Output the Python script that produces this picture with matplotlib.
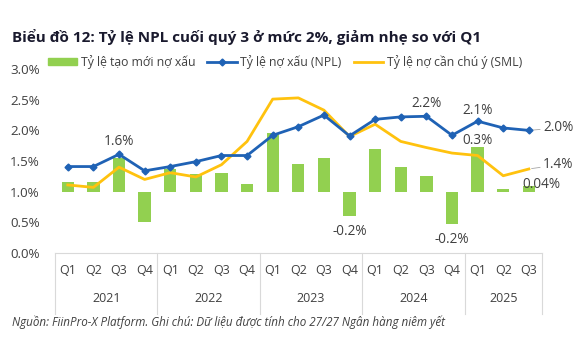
import matplotlib
matplotlib.use("Agg")
import matplotlib.pyplot as plt
import matplotlib.transforms as mtransforms
from matplotlib.lines import Line2D
from matplotlib.patches import Patch

quarters = ["Q1", "Q2", "Q3", "Q4"] * 4 + ["Q1", "Q2", "Q3"]
years = ["2021", "2022", "2023", "2024", "2025"]
year_sizes = [4, 4, 4, 4, 3]

# % values
npl = [1.41, 1.41, 1.61, 1.34, 1.41, 1.49, 1.59, 1.59, 1.92, 2.06, 2.25, 1.91,
       2.18, 2.22, 2.23, 1.92, 2.15, 2.04, 2.00]
sml = [1.11, 1.07, 1.40, 1.20, 1.31, 1.24, 1.44, 1.82, 2.51, 2.53, 2.33, 1.90,
       2.10, 1.82, 1.72, 1.63, 1.59, 1.26, 1.37]
new_npl = [0.06, 0.065, 0.22, -0.195, 0.15, 0.115, 0.125, 0.05, 0.38, 0.18, 0.22, -0.16,
           0.28, 0.16, 0.10, -0.21, 0.29, 0.02, 0.04]

GREEN = "#92D050"
BLUE = "#1F62B5"
YELLOW = "#FFC20E"
TXT = "#404040"
GRID = "#D9D9D9"

plt.rcParams["font.family"] = ["Open Sans", "DejaVu Sans"]

fig = plt.figure(figsize=(5.77, 3.37), dpi=100)
ax = fig.add_axes([0.0953, 0.2493, 0.8434, 0.5457])
ax2 = ax.twinx()
ax.set_zorder(ax2.get_zorder() + 1)
ax.patch.set_visible(False)

x = list(range(len(quarters)))

# bars on hidden secondary scale, zero level aligned with 1.0% on the main scale
ax2.bar(x, new_npl, width=0.48, color=GREEN, zorder=1)
ax2.set_ylim(-0.4, 0.8)
ax2.axis("off")

ax.plot(x, sml, color=YELLOW, lw=2.0, zorder=3)
ax.plot(x, npl, color=BLUE, lw=2.0, marker="D", markersize=3.5, zorder=4)

ax.set_xlim(-0.5, len(x) - 0.5)
ax.set_ylim(0, 3.0)
ax.set_yticks([0, 0.5, 1.0, 1.5, 2.0, 2.5, 3.0])
ax.set_yticklabels([f"{v:.1f}%" for v in [0, 0.5, 1.0, 1.5, 2.0, 2.5, 3.0]])
ax.tick_params(axis="y", length=0, labelsize=9.6, labelcolor=TXT, pad=11)
ax.set_xticks(x)
ax.set_xticklabels(quarters)
ax.tick_params(axis="x", length=0, labelsize=9, labelcolor=TXT, pad=8)
for s in ["top", "right", "left"]:
    ax.spines[s].set_visible(False)
ax.spines["bottom"].set_color(GRID)
ax.spines["bottom"].set_linewidth(0.8)

# year row and group separators below the axis
trans = mtransforms.blended_transform_factory(ax.transData, ax.transAxes)
start = -0.5
bounds = [start]
for yr, n in zip(years, year_sizes):
    mid = start + n / 2
    ax.text(mid, -0.245, yr, transform=trans, ha="center", va="center",
            fontsize=9, color=TXT)
    start += n
    bounds.append(start)
for b in bounds:
    ax.add_line(Line2D([b, b], [0, -0.33], transform=trans, color=GRID,
                       lw=0.8, clip_on=False))

# value labels
lab = dict(fontsize=9.8, color=TXT, ha="center")
ax.text(2, npl[2] + 0.08, "1.6%", va="bottom", **lab)
ax.text(14, npl[14] + 0.08, "2.2%", va="bottom", **lab)
ax.text(16, npl[16] + 0.06, "2.1%", va="bottom", **lab)
ax2.text(11, new_npl[11] - 0.05, "-0.2%", va="top", **lab)
ax2.text(15, new_npl[15] - 0.05, "-0.2%", va="top", **lab)
ax2.text(16, new_npl[16] - 0.005, "0.3%", va="bottom", **lab)

lead = dict(arrowstyle="-", color="#A6A6A6", lw=0.6, shrinkA=0, shrinkB=2)
ax.annotate("2.0%", xy=(18, npl[18]), xytext=(18.55, npl[18] + 0.04),
            fontsize=9.8, color=TXT, ha="left", va="center", arrowprops=lead)
ax.annotate("1.4%", xy=(18, sml[18]), xytext=(18.55, sml[18] + 0.07),
            fontsize=9.8, color=TXT, ha="left", va="center", arrowprops=lead)
ax2.text(17.75, new_npl[18] + 0.005, "0.04%", fontsize=9.8, color=TXT,
         ha="left", va="center")

handles = [Patch(color=GREEN),
           Line2D([], [], color=BLUE, lw=2, marker="D", markersize=3.5),
           Line2D([], [], color=YELLOW, lw=2)]
ax.legend(handles, ["Tỷ lệ tạo mới nợ xấu", "Tỷ lệ nợ xấu (NPL)", "Tỷ lệ nợ cần chú ý (SML)"],
          loc="lower left", bbox_to_anchor=(-0.025, 0.975), ncol=3, frameon=False,
          fontsize=8.8, handlelength=2.4, handleheight=0.6, handletextpad=0.3,
          columnspacing=1.0, labelcolor=TXT, borderaxespad=0)

fig.text(0.02, 0.89, "Biểu đồ 12: Tỷ lệ NPL cuối quý 3 ở mức 2%, giảm nhẹ so với Q1",
         fontsize=11, fontweight="bold", color="#1A1A2E", ha="left", va="center")
fig.text(0.02, 0.045, "Nguồn: FiinPro-X Platform. Ghi chú: Dữ liệu được tính cho 27/27 Ngân hàng niêm yết",
         fontsize=8.4, style="italic", color=TXT, ha="left", va="center")

fig.savefig("out.png", dpi=100, facecolor="white")
